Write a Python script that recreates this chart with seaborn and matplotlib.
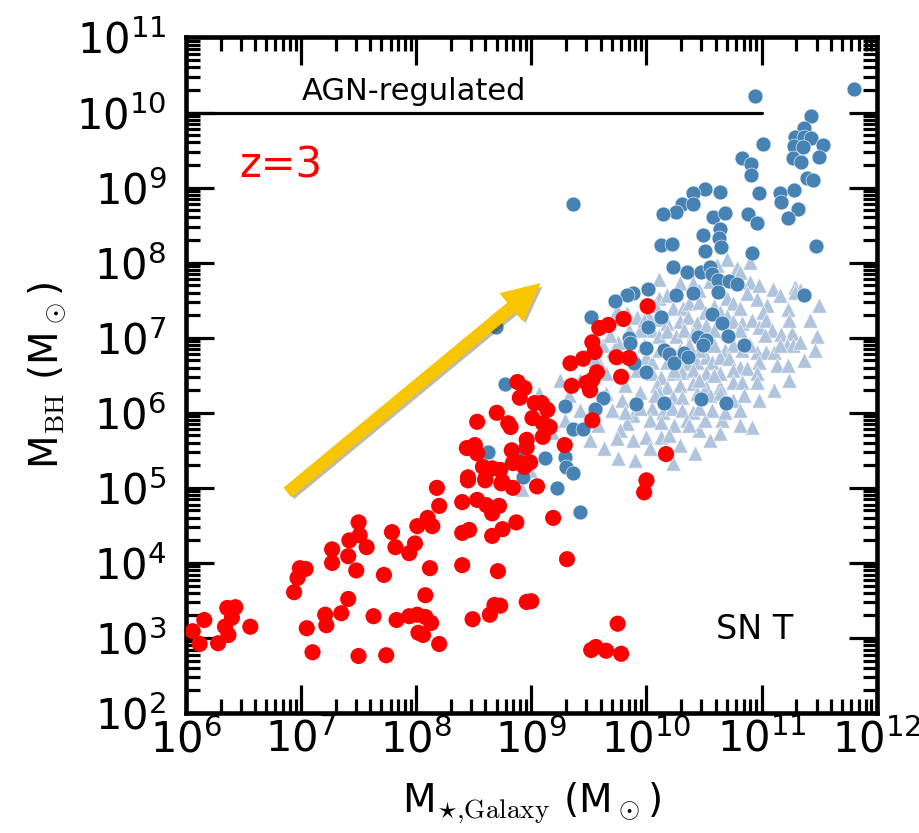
import numpy as np
import pandas as pd
import matplotlib
matplotlib.use("Agg")
import matplotlib.pyplot as plt
import seaborn as sns
from matplotlib.patches import FancyArrowPatch
import matplotlib.patheffects as pe

# ---------------- data (log10 values) ----------------
red_log_mstar = [6.06, 6.16, 6.12, 6.28, 6.34, 6.36, 6.43, 6.40, 6.37, 6.56,
                 6.94, 6.97, 6.99, 7.04, 7.05, 7.10, 7.21, 7.22, 7.35, 7.41,
                 7.27, 7.27, 7.42, 7.50, 7.51, 7.41, 7.57, 7.48, 7.50, 7.63,
                 7.72, 7.74, 7.79, 7.82, 7.94, 7.99, 8.01, 8.10, 8.14, 8.18,
                 8.20, 7.83, 7.94, 8.01, 8.08, 8.13, 8.02, 8.06, 8.08, 8.12,
                 8.20, 8.40, 8.53, 8.61, 8.66, 8.72, 8.40, 8.46, 8.66, 8.75,
                 8.87, 8.40, 8.71, 8.49, 8.64, 8.68, 8.73, 8.96, 8.45, 8.60,
                 8.74, 8.84, 9.05, 9.98, 10.00, 9.19, 9.31, 9.00, 9.75, 9.52,
                 9.65, 9.78, 9.56, 8.88, 8.94, 8.90, 8.70, 8.53, 8.80, 8.82,
                 9.03, 9.09, 9.14, 9.01, 9.10, 9.16, 9.10, 8.96, 8.96, 8.44,
                 8.51, 8.53, 8.83, 8.84, 8.99, 8.94, 8.58, 8.66, 8.73, 8.45,
                 8.60, 8.75, 8.90, 10.01, 9.80, 9.67, 9.59, 9.53, 9.55, 9.45,
                 9.34, 9.74, 9.85, 9.78, 9.57, 9.53, 9.48, 9.35, 9.51, 9.53,
                 9.29, 10.17]
red_log_mbh = [3.09, 3.24, 2.92, 2.93, 3.15, 3.40, 3.41, 3.27, 3.04, 3.15,
               3.61, 3.80, 3.93, 3.92, 3.13, 2.81, 3.31, 3.17, 3.33, 3.52,
               4.18, 4.00, 4.30, 4.54, 4.37, 4.09, 4.21, 3.90, 2.76, 3.29,
               3.84, 2.77, 4.41, 4.21, 4.13, 4.26, 4.49, 4.60, 4.49, 5.00,
               4.76, 3.24, 3.29, 3.31, 3.28, 3.20, 3.07, 3.04, 3.57, 3.93,
               2.92, 4.81, 4.84, 4.77, 4.66, 4.76, 4.40, 4.44, 4.36, 4.45,
               4.54, 3.97, 3.89, 3.25, 3.31, 3.44, 3.43, 3.48, 5.10, 5.10,
               5.06, 5.00, 5.02, 4.94, 5.10, 4.60, 4.05, 3.49, 3.19, 2.84,
               2.83, 2.79, 2.88, 6.41, 6.33, 6.20, 6.00, 5.88, 5.86, 5.81,
               6.13, 6.13, 6.04, 5.93, 5.86, 5.81, 5.68, 5.64, 5.54, 5.53,
               5.57, 5.46, 5.50, 5.33, 5.34, 5.28, 5.28, 5.26, 5.24, 5.14,
               5.12, 5.08, 5.33, 7.42, 7.25, 7.17, 7.13, 6.94, 6.81, 6.72,
               6.66, 6.74, 6.73, 6.48, 6.54, 6.44, 6.40, 6.36, 6.30, 5.90,
               5.57, 5.45]

blue_log_mstar = [9.36, 10.94, 11.80, 11.43, 11.37, 11.29, 11.37, 11.43, 11.28, 11.36,
                  11.53, 11.01, 10.83, 10.91, 10.91, 11.27, 11.34, 11.50, 11.39, 11.45,
                  10.51, 10.64, 10.40, 10.31, 10.26, 10.40, 10.14, 10.58, 10.68, 10.88,
                  10.98, 11.16, 11.28, 11.17, 11.32, 10.96, 11.23, 10.64, 10.49, 10.63,
                  10.65, 10.51, 10.13, 10.22, 11.47, 10.92, 10.23, 10.35, 10.47, 10.55,
                  10.57, 10.62, 10.62, 10.72, 10.79, 9.88, 9.83, 10.01, 10.26, 10.40,
                  9.73, 11.37, 9.52, 10.13, 10.01, 10.57, 10.66, 10.45, 10.52, 10.49,
                  10.71, 10.85, 9.85, 9.86, 10.00, 10.15, 10.20, 10.24, 10.33, 10.36,
                  9.89, 10.00, 8.77, 9.29, 9.62, 9.55, 9.91, 10.15, 10.47, 10.69,
                  9.36, 9.45, 8.62, 8.92, 9.12, 9.29, 9.30, 9.36, 8.93, 9.22,
                  9.42, 8.69]
blue_log_mbh = [8.78, 10.22, 10.31, 9.95, 9.79, 9.67, 9.67, 9.66, 9.55, 9.54,
                9.57, 9.58, 9.39, 9.31, 9.17, 9.39, 9.34, 9.41, 9.13, 9.10,
                8.98, 8.94, 8.93, 8.78, 8.67, 8.78, 8.65, 8.61, 8.66, 8.65,
                8.93, 8.93, 8.97, 8.81, 8.71, 8.53, 8.59, 8.45, 8.37, 8.33,
                8.21, 8.15, 8.23, 8.25, 8.22, 8.13, 7.94, 7.87, 7.87, 7.94,
                7.85, 7.77, 7.61, 7.76, 7.72, 7.59, 7.57, 7.65, 7.57, 7.59,
                7.49, 7.57, 7.27, 7.27, 7.14, 7.31, 7.19, 7.01, 6.97, 6.90,
                7.02, 6.90, 7.00, 6.93, 6.86, 6.84, 6.78, 6.66, 6.80, 6.74,
                6.66, 6.54, 6.38, 6.09, 6.20, 6.05, 6.12, 6.13, 6.18, 6.13,
                5.78, 5.78, 5.48, 5.45, 5.40, 5.41, 5.28, 5.20, 5.14, 5.00,
                4.68, 7.14]

tri_log_mstar = [10.70, 10.90, 10.79,
                 10.11, 10.29, 10.40, 10.55, 10.90, 11.10, 11.29, 11.33,
                 10.11, 10.18, 10.23, 10.32, 10.37, 10.46, 10.51, 10.59, 10.70, 10.75,
                 10.87, 10.96, 11.05, 11.23, 11.29, 10.81, 11.01,
                 9.74, 9.83, 9.92, 10.01, 10.10, 10.18, 10.29, 10.36, 10.44, 10.52,
                 10.64, 10.70, 10.75, 10.83, 10.92, 10.98, 11.04, 11.09, 11.17, 11.26, 11.48,
                 9.62, 9.71, 9.75, 10.05, 10.11, 10.18, 10.26, 10.33, 10.40, 10.68,
                 10.75, 10.83, 10.96, 11.04, 11.11, 11.22, 11.27, 11.33,
                 9.59, 9.65, 10.00, 10.05, 10.18, 10.26, 10.35, 10.44, 10.52, 10.57,
                 10.64, 10.72, 10.81, 11.13, 11.23, 10.98,
                 10.05, 10.13, 10.23, 10.31, 10.40, 10.52, 10.64, 10.75, 10.87, 10.96,
                 10.09, 10.18, 10.29, 10.40, 10.52, 10.64, 10.75, 10.83, 10.96,
                 10.11, 10.23, 10.31, 10.44, 10.55, 10.64, 10.75, 9.79, 9.65,
                 10.05, 10.14, 10.22, 10.31, 10.40, 10.57, 9.88, 10.03,
                 10.13, 10.24, 10.35, 10.66, 10.92, 9.83, 9.77, 9.74, 9.88, 10.00, 10.13, 10.64,
                 9.90, 10.42, 10.23,
                 9.25, 9.07, 8.92,
                 9.94, 9.98, 9.84, 9.92, 9.81, 9.94, 9.70, 9.58, 9.51, 9.63,
                 9.75, 10.03, 10.16, 10.29, 10.46, 10.55, 10.81, 10.51, 10.81, 10.98,
                 11.11, 11.24, 11.37, 11.46, 11.42, 11.50, 11.16, 10.98, 10.81, 10.61,
                 10.46, 10.07, 9.98, 9.85, 9.68, 9.55, 9.42, 9.33, 9.42, 9.29,
                 9.18, 9.12, 8.99, 10.46, 10.59, 10.37, 10.11, 10.24, 10.46, 10.59,
                 10.85, 10.46, 10.68, 10.90, 11.03, 11.16, 11.24, 10.81, 10.59, 10.29,
                 9.94, 9.81, 10.07, 10.37, 10.20]
tri_log_mbh = [8.05, 8.01, 7.93,
               7.78, 7.73, 7.73, 7.76, 7.74, 7.65, 7.68, 7.64,
               7.53, 7.57, 7.40, 7.40, 7.46, 7.48, 7.34, 7.42, 7.53, 7.46,
               7.60, 7.52, 7.44, 7.38, 7.61, 7.40, 7.34,
               7.37, 7.33, 7.28, 7.30, 7.25, 7.20, 7.22, 7.28, 7.20, 7.17,
               7.34, 7.29, 7.22, 7.20, 7.24, 7.14, 7.24, 7.10, 7.05, 7.06, 7.02,
               6.90, 6.84, 6.94, 7.10, 7.02, 7.09, 7.02, 7.10, 7.05, 6.84,
               6.90, 6.84, 6.81, 6.81, 6.81, 6.90, 6.90, 6.94,
               6.66, 6.53, 6.74, 6.68, 6.68, 6.74, 6.66, 6.68, 6.74, 6.68,
               6.74, 6.73, 6.61, 6.64, 6.64, 6.68,
               6.53, 6.48, 6.53, 6.54, 6.57, 6.53, 6.53, 6.57, 6.60, 6.53,
               6.37, 6.34, 6.37, 6.40, 6.34, 6.34, 6.41, 6.41, 6.41,
               6.26, 6.21, 6.21, 6.26, 6.24, 6.26, 6.17, 6.17, 6.26,
               6.06, 6.01, 6.06, 6.04, 6.01, 6.04, 5.97, 5.90,
               5.88, 5.84, 5.90, 5.90, 5.81, 5.86, 5.77, 5.66, 5.64, 5.68, 5.68, 5.73,
               5.37, 5.46, 5.33,
               6.44, 6.26, 4.98,
               7.10, 6.90, 6.81, 6.57, 6.37, 6.28, 6.04, 5.84, 5.64, 5.53,
               5.40, 5.53, 5.48, 5.57, 5.77, 5.64, 5.84, 5.90, 6.04, 6.17,
               6.30, 6.44, 6.70, 6.84, 7.24, 7.44, 7.57, 7.70, 7.88, 7.97,
               7.64, 7.44, 7.24, 7.10, 7.04, 6.70, 6.44, 6.24, 6.04, 5.90,
               5.74, 6.01, 5.24, 6.84, 6.90, 6.90, 6.84, 6.57, 6.44, 6.50,
               6.24, 6.06, 6.01, 6.90, 7.04, 6.90, 7.24, 7.10, 7.10, 6.84,
               6.06, 6.01, 6.24, 5.84, 5.70]

agn_line_mstar = [1e6, 1e11]
agn_line_mbh = [1e10, 1e10]

arrow_tail = (7.7e6, 8.8e4)
arrow_head = (1.18e9, 5.2e7)

red_df = pd.DataFrame({"mstar": 10 ** np.array(red_log_mstar), "mbh": 10 ** np.array(red_log_mbh)})
blue_df = pd.DataFrame({"mstar": 10 ** np.array(blue_log_mstar), "mbh": 10 ** np.array(blue_log_mbh)})
tri_df = pd.DataFrame({"mstar": 10 ** np.array(tri_log_mstar), "mbh": 10 ** np.array(tri_log_mbh)})

# ---------------- style ----------------
sns.set_style("white")
plt.rcParams['font.family'] = ['DejaVu Sans']
plt.rcParams['mathtext.fontset'] = 'cm'
plt.rcParams['text.color'] = 'black'
plt.rcParams['axes.labelcolor'] = 'black'
plt.rcParams['xtick.color'] = 'black'
plt.rcParams['ytick.color'] = 'black'

fig, ax = plt.subplots(figsize=(9.2, 8.33), dpi=100)
fig.subplots_adjust(left=0.202, right=0.953, top=0.955, bottom=0.144)

sns.scatterplot(data=tri_df, x="mstar", y="mbh", ax=ax, marker="^", s=120,
                color="#B0C4DE", edgecolor="white", linewidth=0.4, zorder=2)
sns.scatterplot(data=blue_df, x="mstar", y="mbh", ax=ax, marker="o", s=115,
                color="#4682B4", edgecolor="white", linewidth=0.4, zorder=3)
sns.scatterplot(data=red_df, x="mstar", y="mbh", ax=ax, marker="o", s=135,
                color="#FF0000", edgecolor="none", linewidth=0, zorder=4)

ax.plot(agn_line_mstar, agn_line_mbh, color="black", lw=2.3, zorder=5)

ax.set_xscale("log")
ax.set_yscale("log")
ax.set_xlim(1e6, 1e12)
ax.set_ylim(1e2, 1e11)

arrow = FancyArrowPatch(arrow_tail, arrow_head,
                        arrowstyle="simple,head_length=2.6,head_width=2.5,tail_width=0.8",
                        mutation_scale=10, color="#F8C600", shrinkA=0, shrinkB=0,
                        zorder=6)
arrow.set_path_effects([pe.SimplePatchShadow(offset=(2, -2), alpha=0.35), pe.Normal()])
ax.add_patch(arrow)

ax.text(0.078, 0.793, "z=3", color="red", fontsize=30, transform=ax.transAxes, va="baseline")
ax.text(0.168, 0.908, "AGN-regulated", color="black", fontsize=22, transform=ax.transAxes, va="baseline")
ax.text(0.768, 0.110, "SN T", color="black", fontsize=24, transform=ax.transAxes, va="baseline")

ax.set_xlabel(r"M$_{\star{,}\rm Galaxy}$ (M$_\odot$)", fontsize=28, labelpad=14)
ax.set_ylabel(r"M$_{\rm BH}$ (M$_\odot$)", fontsize=28, labelpad=6)

for s in ax.spines.values():
    s.set_linewidth(3.3)
    s.set_color("black")
    s.set_visible(True)

ax.tick_params(which="both", direction="in", top=True, right=True, bottom=True, left=True,
               colors="black")
ax.tick_params(which="major", length=20, width=2.3, labelsize=30)
ax.tick_params(which="minor", length=10, width=2.3)
ax.tick_params(axis="x", which="major", pad=4)
ax.tick_params(axis="y", which="major", pad=14)
ax.xaxis.set_minor_locator(matplotlib.ticker.LogLocator(base=10, subs=np.arange(2, 10), numticks=20))
ax.yaxis.set_minor_locator(matplotlib.ticker.LogLocator(base=10, subs=np.arange(2, 10), numticks=20))
ax.xaxis.set_major_locator(matplotlib.ticker.LogLocator(base=10, numticks=20))
ax.yaxis.set_major_locator(matplotlib.ticker.LogLocator(base=10, numticks=20))
ax.xaxis.set_minor_formatter(matplotlib.ticker.NullFormatter())
ax.yaxis.set_minor_formatter(matplotlib.ticker.NullFormatter())

if ax.get_legend() is not None:
    ax.get_legend().remove()

fig.savefig("out.png", dpi=100)
